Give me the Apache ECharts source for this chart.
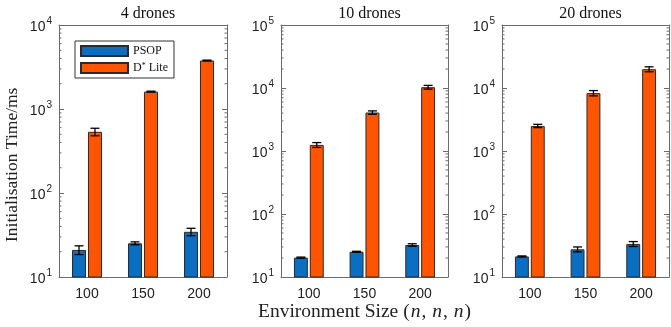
<!DOCTYPE html>
<html>
<head>
<meta charset="utf-8">
<script src="https://cdn.jsdelivr.net/npm/echarts@6/dist/echarts.min.js"></script>
<style>
  html, body { margin: 0; padding: 0; background: #fff; }
  #chart { width: 671px; height: 327px; }
</style>
</head>
<body>
<div id="chart"></div>
<script>
// data
const categories = ["100", "150", "200"];
const panelTitles = ["4 drones", "10 drones", "20 drones"];
const yMax = [1e4, 1e5, 1e5];

const psop4 = [21, 25.2, 34.5];
const psop4Err = [2.5, 1, 3.5];
const dstar4 = [535, 1610, 3780];
const dstar4Err = [55, 20, 40];

const psop10 = [20.3, 25.2, 32.2];
const psop10Err = [0.4, 0.4, 1.5];
const dstar10 = [1250, 4080, 10300];
const dstar10Err = [110, 250, 700];

const psop20 = [21.2, 27.5, 33.5];
const psop20Err = [0.4, 2.5, 3];
const dstar20 = [2500, 8300, 19900];
const dstar20Err = [150, 800, 1800];

const psopVals = [psop4, psop10, psop20];
const psopErrs = [psop4Err, psop10Err, psop20Err];
const dstarVals = [dstar4, dstar10, dstar20];
const dstarErrs = [dstar4Err, dstar10Err, dstar20Err];

const blue = "#0a6fc2";
const orange = "#ff5500";
const axisGray = "#6b6b6b";

const grids = [
  { left: 59, top: 25, width: 168, height: 252 },
  { left: 281, top: 25, width: 167, height: 252 },
  { left: 502, top: 25, width: 167, height: 252 },
];

const barFrac = 0.25; // bar width as share of the band
const gapFrac = 0.14; // gap as share of bar width

function minorTicks(max) {
  const out = [];
  for (let d = 10; d < max; d *= 10) {
    for (let k = 2; k <= 9; k++) out.push([0, d * k]);
  }
  return out;
}

function errorSeries(i, vals, errs, side) {
  return {
    type: "custom",
    xAxisIndex: i * 2,
    yAxisIndex: i * 2,
    z: 5,
    silent: true,
    data: vals.map((v, j) => [j, v - errs[j], v + errs[j]]),
    renderItem: function (params, api) {
      const band = params.coordSys.width / categories.length;
      const off = (band * barFrac * (1 + gapFrac)) / 2 * side;
      const lo = api.coord([api.value(0), api.value(1)]);
      const hi = api.coord([api.value(0), api.value(2)]);
      const x = lo[0] + off;
      const cap = 4.5;
      const style = { stroke: "#000", lineWidth: 1.3 };
      return {
        type: "group",
        children: [
          { type: "line", shape: { x1: x, y1: lo[1], x2: x, y2: hi[1] }, style: style },
          { type: "line", shape: { x1: x - cap, y1: lo[1], x2: x + cap, y2: lo[1] }, style: style },
          { type: "line", shape: { x1: x - cap, y1: hi[1], x2: x + cap, y2: hi[1] }, style: style },
        ],
      };
    },
  };
}

const xAxes = [];
const yAxes = [];
const series = [];
const titles = [];

grids.forEach((g, i) => {
  titles.push({
    text: panelTitles[i],
    left: g.left + g.width / 2,
    textAlign: "center",
    top: 1,
    textStyle: { fontFamily: "Liberation Serif", fontSize: 16, fontWeight: "normal", color: "#111" },
  });

  // bottom category axis
  xAxes.push({
    type: "category",
    gridIndex: i,
    data: categories,
    axisLine: { lineStyle: { color: axisGray } },
    axisTick: { inside: true, alignWithLabel: true, length: 4, lineStyle: { color: axisGray } },
    axisLabel: { color: "#222", fontFamily: "Liberation Sans", fontSize: 14, margin: 10 },
  });
  // top mirror
  xAxes.push({
    type: "category",
    gridIndex: i,
    position: "top",
    data: categories,
    axisLine: { lineStyle: { color: axisGray } },
    axisTick: { inside: true, alignWithLabel: true, length: 4, lineStyle: { color: axisGray } },
    axisLabel: { show: false },
  });

  const yCommon = {
    type: "log",
    logBase: 10,
    gridIndex: i,
    min: 10,
    max: yMax[i],
    interval: 1,
    splitLine: { show: false },
    axisLine: { show: true, lineStyle: { color: axisGray } },
    axisTick: { show: true, inside: true, length: 5, lineStyle: { color: axisGray } },
  };
  yAxes.push(Object.assign({}, yCommon, {
    position: "left",
    axisLabel: {
      margin: 7,
      formatter: function (v) {
        const e = Math.round(Math.log10(v));
        return "{b|10}{s|" + e + "}";
      },
      rich: {
        b: { fontFamily: "Liberation Sans", fontSize: 14, color: "#222", padding: [4, 0, 0, 0] },
        s: { fontFamily: "Liberation Sans", fontSize: 10, color: "#222", verticalAlign: "top", padding: [0, 0, 6, 1] },
      },
    },
  }));
  yAxes.push(Object.assign({}, yCommon, {
    position: "right",
    axisLabel: { show: false },
  }));

  series.push({
    name: "PSOP",
    type: "bar",
    xAxisIndex: i * 2,
    yAxisIndex: i * 2,
    data: psopVals[i],
    barWidth: barFrac * 100 + "%",
    barGap: gapFrac * 100 + "%",
    itemStyle: { color: blue, borderColor: "#2a2a2a", borderWidth: 1 },
  });
  series.push({
    name: "D* Lite",
    type: "bar",
    xAxisIndex: i * 2,
    yAxisIndex: i * 2,
    data: dstarVals[i],
    barWidth: barFrac * 100 + "%",
    barGap: gapFrac * 100 + "%",
    itemStyle: { color: orange, borderColor: "#2a2a2a", borderWidth: 1 },
  });
  series.push(errorSeries(i, psopVals[i], psopErrs[i], -1));
  series.push(errorSeries(i, dstarVals[i], dstarErrs[i], 1));

  // minor log ticks on both sides
  series.push({
    type: "custom",
    xAxisIndex: i * 2,
    yAxisIndex: i * 2,
    silent: true,
    data: minorTicks(yMax[i]),
    renderItem: function (params, api) {
      const cs = params.coordSys;
      const y = api.coord([0, api.value(1)])[1];
      const st = { stroke: axisGray, lineWidth: 1 };
      return {
        type: "group",
        children: [
          { type: "line", shape: { x1: cs.x, y1: y, x2: cs.x + 2.5, y2: y }, style: st },
          { type: "line", shape: { x1: cs.x + cs.width - 2.5, y1: y, x2: cs.x + cs.width, y2: y }, style: st },
        ],
      };
    },
  });
});

const chart = echarts.init(document.getElementById("chart"));
chart.setOption({
  backgroundColor: "#fff",
  animation: false,
  title: titles,
  grid: grids,
  xAxis: xAxes,
  yAxis: yAxes,
  legend: {
    data: ["PSOP", "D* Lite"],
    orient: "vertical",
    left: 75,
    top: 41,
    padding: [4, 6, 4, 5],
    itemGap: 5,
    itemWidth: 47,
    itemHeight: 10,
    icon: "rect",
    borderColor: "#333",
    borderWidth: 1,
    backgroundColor: "#fff",
    formatter: function (name) {
      return name === "D* Lite" ? "D{s|*} Lite" : name;
    },
    textStyle: {
      fontFamily: "Liberation Serif",
      fontSize: 12,
      color: "#111",
      rich: { s: { fontFamily: "Liberation Serif", fontSize: 8, verticalAlign: "top", padding: [0, 0, 4, 0], color: "#111" } },
    },
  },
  graphic: [
    {
      type: "text",
      left: 258,
      top: 302,
      style: {
        text: "Environment Size ({i|n}, {i|n}, {i|n})",
        fontFamily: "Liberation Serif",
        fontSize: 19.5,
        fill: "#222",
        rich: { i: { fontFamily: "Liberation Serif", fontStyle: "italic", fontSize: 19.5, fill: "#222", padding: [0, 1, 0, 1] } },
      },
    },
    {
      type: "text",
      x: 3,
      y: 242,
      rotation: Math.PI / 2,
      style: {
        text: "Initialisation Time/ms",
        fontFamily: "Liberation Serif",
        fontSize: 17.5,
        fill: "#222",
      },
    },
  ],
  series: series,
});
</script>
</body>
</html>
